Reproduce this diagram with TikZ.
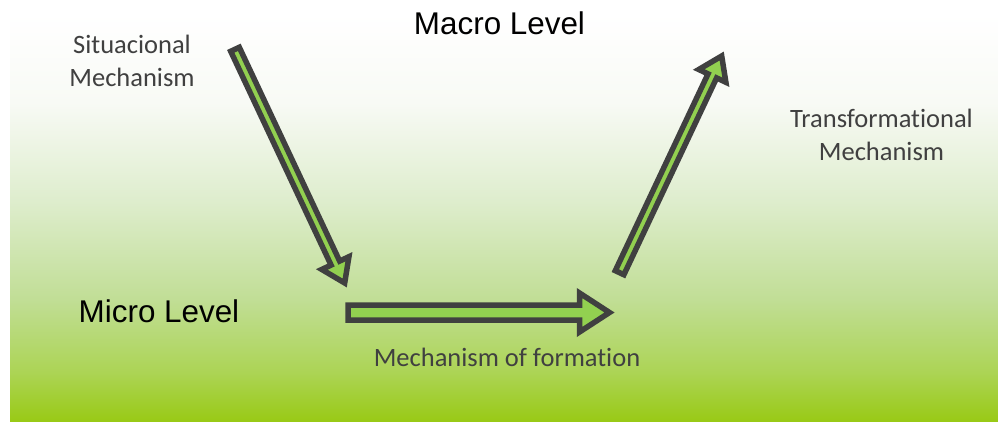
\documentclass[tikz,border=0pt]{standalone}
\usepackage{fontspec}
\setmainfont{Carlito}[Ligatures=NoCommon]
\newfontfamily\arialfont{Liberation Sans}
\usetikzlibrary{calc}
\definecolor{arrowgreen}{RGB}{146,208,80}
\definecolor{outlinegray}{RGB}{64,64,64}
\definecolor{labelgray}{RGB}{64,64,64}
\definecolor{bgone}{RGB}{153,202,22}
\definecolor{bgtwo}{RGB}{172,212,85}
\definecolor{bgthree}{RGB}{193,222,150}
\definecolor{bgfour}{RGB}{222,237,205}
\definecolor{bgfive}{RGB}{248,250,245}
\pgfdeclareverticalshading{levelshade}{100bp}{color(0bp)=(bgone); color(25bp)=(bgone);
  color(31bp)=(bgtwo); color(40bp)=(bgthree); color(52bp)=(bgfour);
  color(64bp)=(bgfive); color(75bp)=(white); color(100bp)=(white)}

% block arrow: tail, tip, half shaft, half head, head length (in pt)
\newcommand{\blockarrow}[5]{%
  \coordinate (#2-base) at ($(#2)!#5pt!(#1)$);
  \draw[mecharrow] ($(#1)!#3pt!90:(#2)$) -- ($(#2-base)!#3pt!-90:(#1)$)
    -- ($(#2-base)!#4pt!-90:(#1)$) -- (#2) -- ($(#2-base)!#4pt!90:(#1)$)
    -- ($(#2-base)!#3pt!90:(#1)$) -- ($(#1)!#3pt!-90:(#2)$) -- cycle;}

\begin{document}
\begin{tikzpicture}[x=1pt,y=1pt,
    mecharrow/.style={draw=outlinegray,fill=arrowgreen,line width=5.5pt,line join=miter},
    levellabel/.style={font=\arialfont\fontsize{31.4}{36}\selectfont,text=black,inner sep=0pt,anchor=base},
    mechlabel/.style={font=\fontsize{26.5}{33}\selectfont,text=labelgray,inner sep=0pt,align=center}]
    \useasboundingbox (0,0) rectangle (998,421);
    \fill[shading=levelshade] (10,0) rectangle (998,408);

    % level names
    \node[levellabel] (macro) at (499.5,386) {Macro Level};
    \node[levellabel] (micro) at (159,98.7) {Micro Level};

    % mechanism labels
    \node[mechlabel,anchor=north] (situational) at (132,386) {Situacional\\Mechanism};
    \node[mechlabel,anchor=north] (transformational) at (881.5,312) {Transformational\\Mechanism};
    \node[mechlabel,anchor=base] (formation) at (507,55) {Mechanism of formation};

    % arrows
    \coordinate (sitTail) at (235,371.7);
    \coordinate (sitTip) at (344.7,138);
    \coordinate (formTail) at (348,108.5);
    \coordinate (formTip) at (609.5,108.5);
    \coordinate (transTail) at (619.6,148.3);
    \coordinate (transTip) at (721.7,365);
    \blockarrow{sitTail}{sitTip}{4.75}{15}{22}
    \blockarrow{formTail}{formTip}{7.5}{19.5}{30}
    \blockarrow{transTail}{transTip}{4.75}{15}{22}
\end{tikzpicture}
\end{document}
